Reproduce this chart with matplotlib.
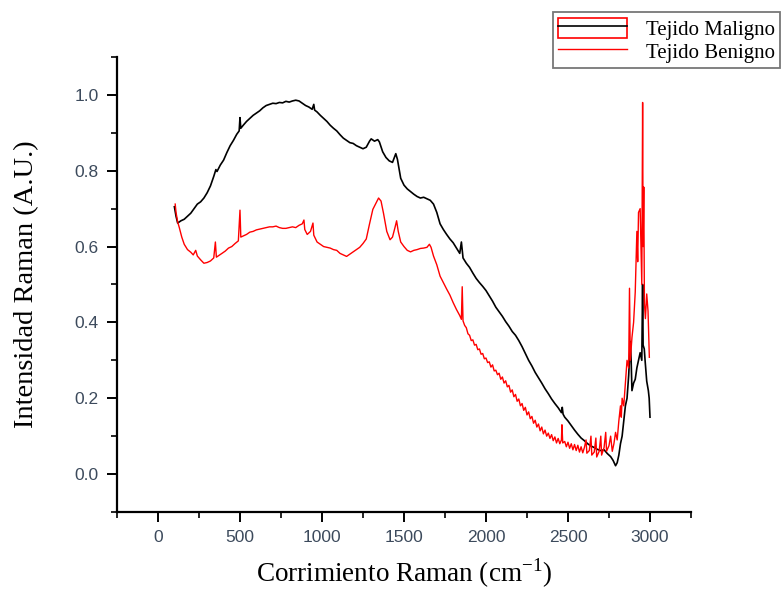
import numpy as np
import matplotlib
matplotlib.use('Agg')
import matplotlib.pyplot as plt
from matplotlib.patches import Rectangle
from matplotlib.lines import Line2D
from matplotlib.legend_handler import HandlerTuple
from matplotlib.ticker import MultipleLocator

# Espectro tejido maligno
x_mal = [100, 110, 120, 140, 160, 180, 200, 220, 240, 260, 280, 300, 320, 340, 353, 360,
         380, 400, 420, 440, 460, 480, 495, 500, 505, 520, 540, 560, 580, 600, 620, 640,
         660, 680, 700, 720, 740, 760, 780, 800, 820, 840, 860, 880, 900, 920, 940, 950,
         955, 970, 990, 1010, 1030, 1050, 1070, 1090, 1110, 1130, 1150, 1170, 1190, 1210,
         1230, 1250, 1270, 1290, 1300, 1320, 1340, 1350, 1370, 1390, 1410, 1430, 1450, 1460,
         1480, 1500, 1520, 1540, 1560, 1580, 1600, 1620, 1640, 1660, 1680, 1700, 1720, 1740,
         1760, 1780, 1800, 1820, 1840, 1850, 1855, 1860, 1880, 1900, 1920, 1940, 1960, 1980,
         2000, 2020, 2040, 2060, 2080, 2100, 2120, 2140, 2160, 2180, 2200, 2220, 2240, 2260,
         2280, 2300, 2320, 2340, 2360, 2380, 2400, 2420, 2440, 2460, 2465, 2470, 2480, 2500,
         2520, 2540, 2560, 2580, 2600, 2620, 2640, 2660, 2680, 2700, 2720, 2740, 2760, 2775,
         2790, 2800, 2810, 2820, 2830, 2840, 2850, 2860, 2870, 2880, 2885, 2890, 2900, 2910,
         2920, 2930, 2940, 2950, 2955, 2958, 2965, 2970, 2980, 2990, 2995, 3000]
y_mal = [0.705, 0.680, 0.662, 0.668, 0.672, 0.680, 0.688, 0.700, 0.712, 0.718, 0.728, 0.742,
         0.760, 0.785, 0.803, 0.798, 0.815, 0.828, 0.848, 0.866, 0.880, 0.896, 0.905, 0.940,
         0.912, 0.920, 0.930, 0.938, 0.946, 0.952, 0.958, 0.966, 0.972, 0.975, 0.978, 0.977,
         0.980, 0.979, 0.983, 0.981, 0.984, 0.986, 0.984, 0.978, 0.972, 0.968, 0.962, 0.975,
         0.960, 0.955, 0.946, 0.938, 0.930, 0.920, 0.912, 0.905, 0.895, 0.886, 0.880, 0.874,
         0.872, 0.866, 0.862, 0.858, 0.862, 0.878, 0.884, 0.878, 0.882, 0.876, 0.850, 0.835,
         0.826, 0.822, 0.845, 0.830, 0.780, 0.762, 0.752, 0.745, 0.738, 0.732, 0.728, 0.730,
         0.726, 0.722, 0.712, 0.690, 0.660, 0.645, 0.632, 0.620, 0.610, 0.596, 0.582, 0.612,
         0.590, 0.570, 0.556, 0.545, 0.530, 0.516, 0.505, 0.495, 0.484, 0.470, 0.456, 0.440,
         0.428, 0.416, 0.402, 0.390, 0.376, 0.366, 0.352, 0.336, 0.318, 0.300, 0.285, 0.268,
         0.254, 0.240, 0.225, 0.212, 0.198, 0.186, 0.175, 0.162, 0.176, 0.158, 0.150, 0.140,
         0.128, 0.116, 0.105, 0.095, 0.088, 0.080, 0.074, 0.070, 0.065, 0.062, 0.064, 0.054,
         0.046, 0.036, 0.022, 0.030, 0.050, 0.080, 0.100, 0.140, 0.180, 0.200, 0.260, 0.350,
         0.300, 0.220, 0.240, 0.250, 0.280, 0.300, 0.320, 0.300, 0.500, 0.340, 0.330, 0.300,
         0.245, 0.220, 0.200, 0.150]

# Espectro tejido benigno
x_ben = [105, 110, 120, 130, 145, 160, 180, 200, 215, 230, 240, 260, 280, 300, 320, 340,
         350, 356, 370, 390, 410, 430, 450, 470, 490, 500, 505, 520, 540, 560, 580, 600,
         620, 640, 660, 680, 700, 720, 740, 760, 780, 800, 820, 840, 860, 880, 890, 895,
         910, 930, 945, 950, 970, 990, 1010, 1030, 1050, 1070, 1090, 1110, 1130, 1150, 1170,
         1190, 1210, 1230, 1250, 1270, 1290, 1310, 1330, 1345, 1360, 1375, 1395, 1415, 1430,
         1445, 1455, 1465, 1480, 1500, 1520, 1540, 1560, 1580, 1600, 1620, 1640, 1655, 1665,
         1680, 1700, 1720, 1740, 1760, 1780, 1800, 1820, 1840, 1850, 1855,
         1860, 1870, 1880, 1890, 1900, 1910, 1920, 1930, 1940, 1950, 1960, 1970, 1980, 1990,
         2000, 2010, 2020, 2030, 2040, 2050, 2060, 2070, 2080, 2090, 2100, 2110, 2120, 2130,
         2140, 2150, 2160, 2170, 2180, 2190, 2200, 2210, 2220, 2230, 2240, 2250, 2260, 2270,
         2280, 2290, 2300, 2310, 2320, 2330, 2340, 2350, 2360, 2370, 2380, 2390, 2400, 2410,
         2420, 2430, 2440, 2450, 2460, 2463, 2468, 2480, 2490, 2500, 2510, 2520, 2530, 2540,
         2550, 2560, 2570, 2580, 2590, 2600, 2610, 2615, 2630, 2640, 2645,
         2660, 2670, 2675, 2690, 2700, 2705, 2720, 2730, 2735, 2750, 2760, 2770, 2780, 2790,
         2800, 2810, 2820, 2825, 2830, 2840, 2850, 2860, 2870, 2875, 2880, 2890, 2900, 2910,
         2920, 2925, 2930, 2940, 2945, 2950, 2955, 2958, 2962, 2966, 2972, 2980, 2988, 2996]
y_ben = [0.712, 0.690, 0.665, 0.650, 0.625, 0.606, 0.592, 0.585, 0.578, 0.590, 0.575, 0.565,
         0.556, 0.558, 0.562, 0.570, 0.612, 0.572, 0.576, 0.582, 0.588, 0.596, 0.600, 0.608,
         0.615, 0.696, 0.625, 0.628, 0.632, 0.638, 0.640, 0.644, 0.646, 0.648, 0.650, 0.652,
         0.652, 0.654, 0.650, 0.648, 0.648, 0.650, 0.652, 0.650, 0.656, 0.660, 0.670, 0.645,
         0.632, 0.640, 0.662, 0.630, 0.612, 0.606, 0.600, 0.598, 0.596, 0.592, 0.590, 0.582,
         0.578, 0.574, 0.580, 0.586, 0.592, 0.598, 0.608, 0.620, 0.660, 0.698, 0.715, 0.728,
         0.720, 0.688, 0.640, 0.618, 0.625, 0.650, 0.668, 0.640, 0.612, 0.600, 0.590, 0.586,
         0.590, 0.592, 0.595, 0.596, 0.598, 0.606, 0.598, 0.575, 0.552, 0.522, 0.505, 0.488,
         0.472, 0.452, 0.434, 0.418, 0.408, 0.494,
         0.404, 0.392, 0.386, 0.370, 0.366, 0.352, 0.354, 0.340, 0.342, 0.328, 0.330, 0.316,
         0.318, 0.304, 0.306, 0.294, 0.296, 0.282, 0.288, 0.272, 0.274, 0.262, 0.266, 0.250,
         0.256, 0.240, 0.246, 0.230, 0.234, 0.216, 0.222, 0.204, 0.210, 0.192, 0.198, 0.180,
         0.186, 0.168, 0.176, 0.156, 0.164, 0.146, 0.152, 0.134, 0.142, 0.124, 0.132, 0.114,
         0.124, 0.106, 0.116, 0.100, 0.108, 0.094, 0.104, 0.088, 0.098, 0.082, 0.094, 0.080,
         0.090, 0.130, 0.082, 0.086, 0.072, 0.084, 0.068, 0.080, 0.064, 0.078, 0.062, 0.076,
         0.058, 0.072, 0.056, 0.070, 0.090, 0.055, 0.062, 0.100, 0.050,
         0.058, 0.095, 0.045, 0.060, 0.100, 0.050, 0.070, 0.110, 0.060, 0.075, 0.100, 0.060,
         0.080, 0.110, 0.090, 0.140, 0.180, 0.150, 0.200, 0.180, 0.240, 0.300, 0.280, 0.490,
         0.300, 0.360, 0.400, 0.480, 0.640, 0.560, 0.690, 0.700, 0.600, 0.500, 0.980, 0.600,
         0.757, 0.450, 0.410, 0.475, 0.430, 0.308]

xticks = [0, 500, 1000, 1500, 2000, 2500, 3000]
yticks = [0.0, 0.2, 0.4, 0.6, 0.8, 1.0]

plt.rcParams['mathtext.fontset'] = 'custom'
plt.rcParams['mathtext.rm'] = 'Liberation Serif'

fig = plt.figure(figsize=(7.83, 5.91), dpi=100)
ax = fig.add_axes([0.1494, 0.1337, 0.7331, 0.7699])

ax.plot(x_mal, y_mal, color='black', lw=1.2)
ax.plot(x_ben, y_ben, color='red', lw=1.0)

ax.set_xlim(-250, 3250)
ax.set_ylim(-0.1, 1.1)
ax.set_xticks(xticks)
ax.set_yticks(yticks)
ax.set_yticklabels([f'{v:.1f}' for v in yticks])
ax.xaxis.set_minor_locator(MultipleLocator(250))
ax.yaxis.set_minor_locator(MultipleLocator(0.1))

for side in ['top', 'right']:
    ax.spines[side].set_visible(False)
for side in ['left', 'bottom']:
    ax.spines[side].set_linewidth(1.6)

ax.tick_params(which='major', direction='out', length=7, width=1.4, pad=6,
               labelsize=12.5, labelcolor='#3c4a5c', labelfontfamily='Liberation Sans')
ax.tick_params(which='minor', direction='out', length=4, width=1.2)

ax.set_xlabel(r'Corrimiento Raman (cm$^{\mathregular{-1}}$)', fontsize=19.5,
              family='Liberation Serif')
ax.set_ylabel('Intensidad Raman (A.U.)', fontsize=20.5, family='Liberation Serif')
ax.xaxis.set_label_coords(0.5, -0.098)
ax.yaxis.set_label_coords(-0.135, 0.5)

# leyenda con el recuadro raro del primer elemento
h_mal = (Rectangle((0, 0), 1, 1, facecolor='none', edgecolor='red', lw=1.2),
         Line2D([], [], color='black', lw=1.2))
h_ben = Line2D([], [], color='red', lw=1.0)
leg = fig.legend([h_mal, h_ben], ['Tejido Maligno', 'Tejido Benigno'],
                 handler_map={tuple: HandlerTuple(ndivide=1, pad=0)},
                 loc='upper left', bbox_to_anchor=(0.706, 0.979),
                 prop={'family': 'Liberation Serif', 'size': 15},
                 frameon=True, fancybox=False, edgecolor='#555555',
                 handlelength=3.3, handleheight=1.1, handletextpad=0.9,
                 labelspacing=0.05, borderpad=0.25, borderaxespad=0)
leg.get_frame().set_linewidth(1.3)

fig.savefig('out.png', dpi=100)
